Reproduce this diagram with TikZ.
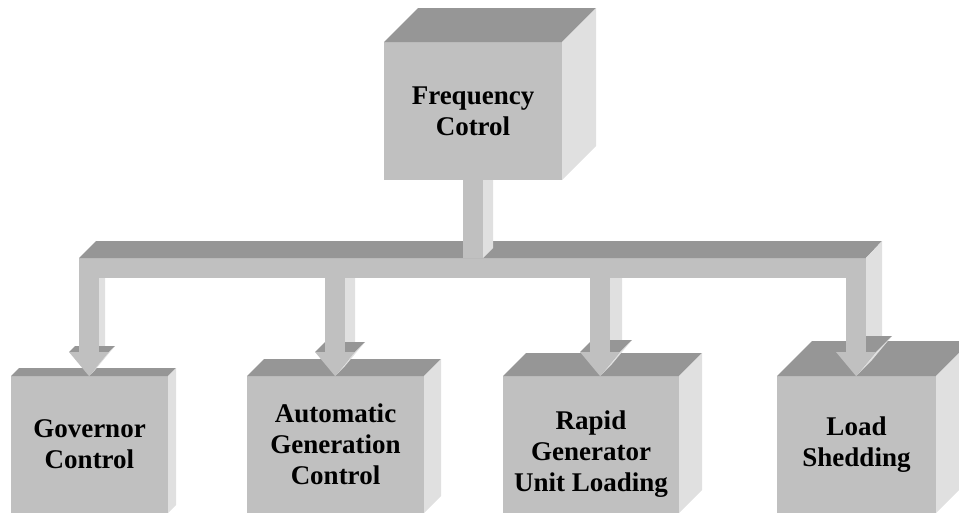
\documentclass[tikz,border=0pt]{standalone}
\usepackage{fontspec}
\setmainfont{Liberation Serif}
\usepackage{tikz}
\usetikzlibrary{positioning}
\definecolor{cubefront}{HTML}{C0C0C0}
\definecolor{cubetop}{HTML}{969696}
\definecolor{cubeside}{HTML}{E0E0E0}
\tikzset{
x=1pt, y=-1pt, % one unit is one pixel, y runs downwards
cube/.style={rectangle, fill=cubefront, inner sep=0pt, outer sep=0pt, align=center, minimum height=137pt, font=\bfseries\fontsize{27}{31}\selectfont}, % front face of a box
bus/.style={rectangle, fill=cubefront, inner sep=0pt, outer sep=0pt, minimum width=787pt, minimum height=20pt}, % front face of the bar
}
% block arrow: target node, x of the arrow, depth
\newcommand{\blockarrow}[3]{%
  \coordinate (tip) at (#1.north -| #2,0);
  \coordinate (root) at (bus.south -| #2,0);
  \fill[cubeside] ([shift={(10,0)}]root) -- ++(#3,0) -- ([shift={(10+#3,-24-#3)}]tip) -- ([shift={(10,-24)}]tip) -- cycle;
  \fill[cubetop] ([shift={(-20,-24)}]tip) -- ([shift={(-20+#3,-24-#3)}]tip) -- ([shift={(20+#3,-24-#3)}]tip) -- ([shift={(20,-24)}]tip) -- cycle;
  \fill[cubeside] ([shift={(20,-24)}]tip) -- ([shift={(20+#3,-24-#3)}]tip) -- ([shift={(#3,-#3)}]tip) -- (tip) -- cycle;
  \fill[cubefront] ([shift={(-10,0)}]root) rectangle ([shift={(10,-24)}]tip);
  \fill[cubefront] ([shift={(-20,-24)}]tip) -- ([shift={(20,-24)}]tip) -- (tip) -- cycle;
}
\begin{document}
\begin{tikzpicture}
\useasboundingbox (0,0) rectangle (959,514);

\node[cube, minimum width=178pt, minimum height=138pt] (freq) at (473,111) {Frequency\\Cotrol};
\node[bus] (bus) at (472.5,268) {};
\node[cube, minimum width=157pt] (gov) at (89.5,444.5) {Governor\\Control};
\node[cube, minimum width=177pt] (agc) at (335.5,444.5) {Automatic\\Generation\\Control};
\node[cube, minimum width=176pt] (rapid) at (591,444.5) {\rule{0pt}{38pt}Rapid\\Generator\\Unit Loading};
\node[cube, minimum width=159pt] (shed) at (856.5,444.5) {Load\\Shedding};

% top and right faces of the boxes
\foreach \n/\d in {freq/34, gov/8, agc/17, rapid/23, shed/35} {
  \fill[cubetop] (\n.north west) -- ++(\d,-\d) -- ([shift={(\d,-\d)}]\n.north east) -- (\n.north east) -- cycle;
  \fill[cubeside] (\n.north east) -- ++(\d,-\d) -- ([shift={(\d,-\d)}]\n.south east) -- (\n.south east) -- cycle;
}

% the bar
\fill[cubetop] (bus.north west) -- ++(17,-17) -- ([shift={(16,-17)}]bus.north east) -- (bus.north east) -- cycle;
\fill[cubeside] (bus.north east) -- ++(16,-17) -- ([shift={(16,0)}]bus.south east) -- (bus.south east) -- cycle;

\blockarrow{gov}{89}{6}
\blockarrow{agc}{335}{10}
\blockarrow{rapid}{600}{12}
\blockarrow{shed}{856}{16}

% stem from the top box
\coordinate (foot) at (bus.north -| freq.south);
\fill[cubeside] ([shift={(10,0)}]freq.south) -- ++(10,0) -- ([shift={(20,-10)}]foot) -- ([shift={(10,0)}]foot) -- cycle;
\fill[cubefront] ([shift={(-10,0)}]freq.south) rectangle ([shift={(10,0)}]foot);
\end{tikzpicture}
\end{document}
